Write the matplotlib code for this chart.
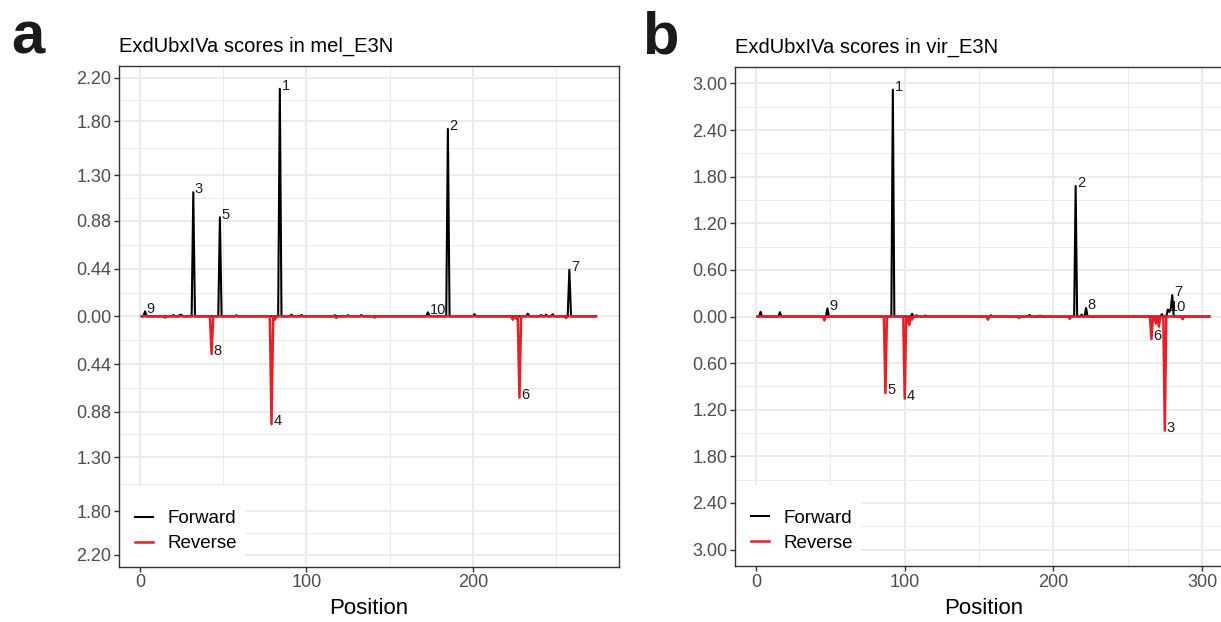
import numpy as np
import matplotlib
matplotlib.use("Agg")
import matplotlib.pyplot as plt
from matplotlib.patches import Rectangle

plt.rcParams['font.family'] = ['Liberation Sans', 'DejaVu Sans']

# ---- panel a: mel_E3N ----
mel_positions = np.arange(1, 275)
mel_fwd_pos = [3, 20, 24, 25, 32, 48, 58, 84, 91, 97, 117, 125, 133, 173, 185, 201, 233, 241, 244, 248, 258]
mel_fwd_val = [0.046, 0.012, 0.015, 0.012, 1.145, 0.914, 0.010, 2.10, 0.015, 0.012, 0.010, 0.010, 0.012,
               0.037, 1.73, 0.020, 0.025, 0.012, 0.015, 0.020, 0.43]
mel_rev_pos = [15, 43, 79, 81, 118, 141, 224, 226, 228, 256]
mel_rev_val = [0.012, 0.347, 0.995, 0.030, 0.015, 0.012, 0.030, 0.020, 0.75, 0.015]
mel_fwd_rank = {84: "1", 185: "2", 32: "3", 48: "5", 258: "7", 3: "9", 173: "10"}
mel_rev_rank = {79: "4", 228: "6", 43: "8"}
mel_breaks = [0.00, 0.44, 0.88, 1.30, 1.80, 2.20]

# ---- panel b: vir_E3N ----
vir_positions = np.arange(1, 306)
vir_fwd_pos = [3, 16, 48, 92, 105, 108, 114, 158, 184, 191, 215, 219, 222, 273, 277, 278, 279, 280]
vir_fwd_val = [0.06, 0.055, 0.105, 2.92, 0.035, 0.015, 0.012, 0.015, 0.020, 0.010, 1.68, 0.025, 0.11,
               0.03, 0.09, 0.06, 0.10, 0.276]
vir_rev_pos = [46, 87, 100, 103, 105, 156, 177, 211, 266, 269, 271, 275, 287]
vir_rev_val = [0.05, 0.987, 1.057, 0.11, 0.04, 0.04, 0.02, 0.03, 0.29, 0.09, 0.13, 1.468, 0.035]
vir_fwd_rank = {92: "1", 215: "2", 280: "7", 222: "8", 48: "9", 277: "10"}
vir_rev_rank = {275: "3", 100: "4", 87: "5", 266: "6"}
vir_breaks = [0.00, 0.60, 1.20, 1.80, 2.40, 3.00]

FWD_COL = "black"
REV_COL = "#ED1C24"
W, H = 1221, 622


def scores(positions, pos, val):
    s = np.zeros(len(positions))
    for p, v in zip(pos, val):
        s[p - positions[0]] = v
    return s


def draw_panel(rect_px, title, positions, fpos, fval, rpos, rval, frank, rrank, breaks, xticks):
    l, t, w, h = rect_px
    ax = fig.add_axes([l / W, (H - t - h) / H, w / W, h / H])
    fwd = scores(positions, fpos, fval)
    rev = scores(positions, rpos, rval)

    ax.plot(positions, fwd, color=FWD_COL, lw=1.5, zorder=3, label="Forward")
    ax.plot(positions, -rev, color=REV_COL, lw=1.8, zorder=4, label="Reverse")
    for p, lab in frank.items():
        ax.annotate(lab, (p, fwd[p - positions[0]]), xytext=(1.2, 2), textcoords="offset points",
                    ha="left", va="center", fontsize=10.5, color="#1a1a1a", zorder=2.5)
    for p, lab in rrank.items():
        ax.annotate(lab, (p, -rev[p - positions[0]]), xytext=(1.2, 2), textcoords="offset points",
                    ha="left", va="center", fontsize=10.5, color="#1a1a1a", zorder=2.5)

    yb = sorted(set([-b for b in breaks] + breaks))
    ax.set_yticks(yb)
    ax.set_yticklabels(["%.2f" % abs(b) for b in yb])
    ax.set_yticks([(a + b) / 2 for a, b in zip(yb[:-1], yb[1:])], minor=True)
    ax.set_xticks(xticks)
    ax.set_xticks([x + 50 for x in xticks], minor=True)

    # ggplot-like expansion (set after ticks so ticks don't stretch the view)
    xr = positions[-1] - positions[0]
    ax.set_xlim(positions[0] - 0.05 * xr, positions[-1] + 0.05 * xr)
    ymax = max(max(fval), max(rval))
    ax.set_ylim(-ymax * 1.1, ymax * 1.1)

    ax.set_axisbelow(True)
    ax.grid(which="major", color="#EBEBEB", lw=1.4)
    ax.grid(which="minor", color="#EBEBEB", lw=0.7)
    ax.tick_params(which="major", length=3.5, width=1, color="#333333", labelcolor="#4D4D4D",
                   labelsize=13, pad=2)
    ax.tick_params(which="minor", length=0)
    for s in ax.spines.values():
        s.set_color("#333333")
        s.set_linewidth(1.0)

    ax.set_xlabel("Position", fontsize=16, labelpad=5)
    ax.set_title(title, loc="left", fontsize=14.5, pad=10.3)

    # legend background in the lower-left corner of the panel
    ax.add_patch(Rectangle((0, 0), 126 / w, 81 / h, transform=ax.transAxes,
                           facecolor="white", edgecolor="none", zorder=1.5))
    ax.legend(loc="center left", bbox_to_anchor=(15.5 / w, 35.5 / h), frameon=False, fontsize=13.5,
              handlelength=1.0, handletextpad=0.75, labelspacing=0.42, borderpad=0, borderaxespad=0)
    return ax


fig = plt.figure(figsize=(W / 100, H / 100), dpi=100)

draw_panel((119, 66, 499.7, 500.7), "ExdUbxIVa scores in mel_E3N", mel_positions,
           mel_fwd_pos, mel_fwd_val, mel_rev_pos, mel_rev_val, mel_fwd_rank, mel_rev_rank,
           mel_breaks, [0, 100, 200])
draw_panel((735, 67, 497, 499), "ExdUbxIVa scores in vir_E3N", vir_positions,
           vir_fwd_pos, vir_fwd_val, vir_rev_pos, vir_rev_val, vir_fwd_rank, vir_rev_rank,
           vir_breaks, [0, 100, 200, 300])

fig.text(11 / W, (H - 54) / H, "a", fontsize=43, fontweight="bold", va="baseline", color="#1a1a1a")
fig.text(642 / W, (H - 54) / H, "b", fontsize=43, fontweight="bold", va="baseline", color="#1a1a1a")

fig.savefig("out.png", dpi=100)
